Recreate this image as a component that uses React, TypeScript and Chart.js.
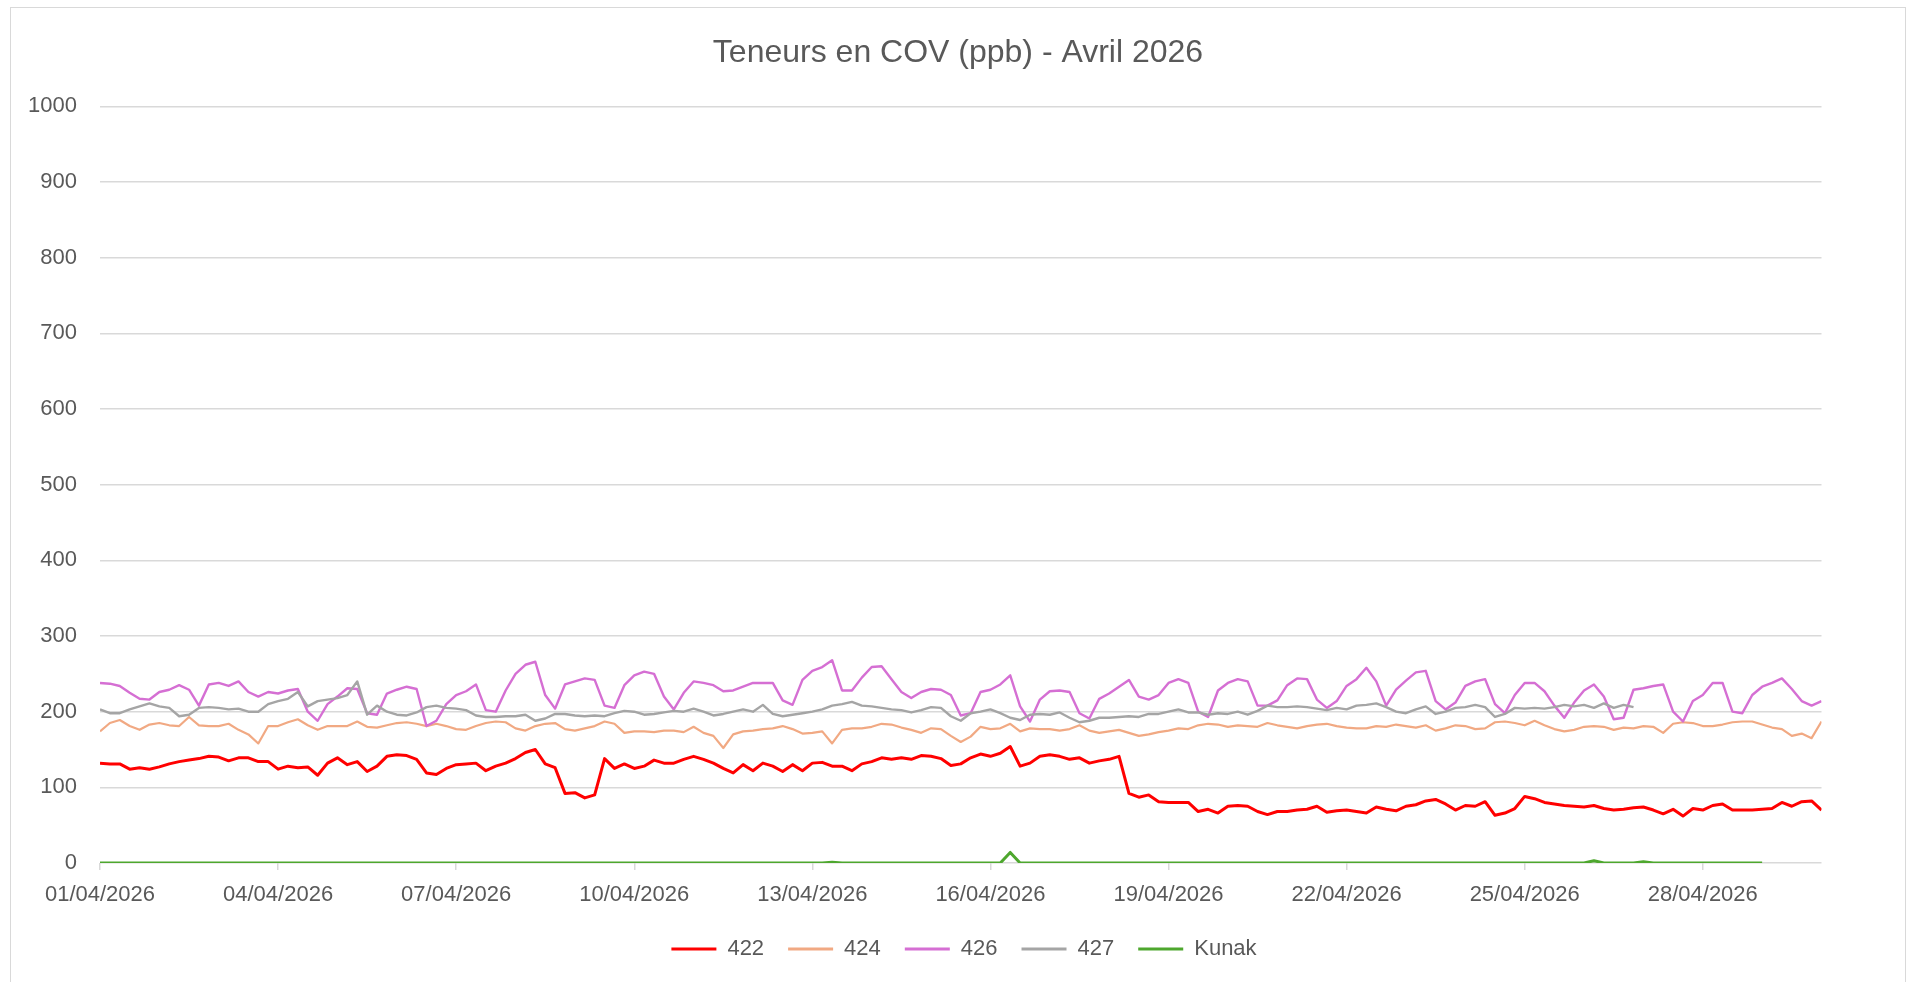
import React, { useEffect, useRef } from "react";
import { Chart, registerables } from "chart.js";

Chart.register(...registerables);

const titleText = "Teneurs en COV (ppb) - Avril 2026";
const seriesNames = ["422", "424", "426", "427", "Kunak"];
const seriesColors = ["#FF0000", "#F1A983", "#D56FD3", "#A5A5A5", "#4EA72E"];
const seriesWidths = [3, 2.2, 2.4, 2.4, 3];

// one value every 4 hours, starting 01/04/2026 00:00
const pointsPerDay = 6;
const xMaxDays = 29;
const tickDays = [0, 3, 6, 9, 12, 15, 18, 21, 24, 27];
const tickLabels = [
  "01/04/2026", "04/04/2026", "07/04/2026", "10/04/2026", "13/04/2026",
  "16/04/2026", "19/04/2026", "22/04/2026", "25/04/2026", "28/04/2026",
];
const yMin = 0;
const yMax = 1000;
const yStep = 100;

const s422 = [
  132, 131, 131, 124, 126, 124,
  127, 131, 134, 136, 138, 141,
  140, 135, 139, 139, 134, 134,
  124, 128, 126, 127, 116, 132,
  139, 130, 134, 121, 128, 141,
  143, 142, 137, 119, 117, 125,
  130, 131, 132, 122, 128, 132,
  138, 146, 150, 131, 126, 92,
  93, 86, 90, 138, 125, 131,
  125, 128, 136, 132, 132, 137,
  141, 137, 132, 125, 119, 130,
  122, 132, 128, 121, 130, 122,
  132, 133, 128, 128, 122, 131,
  134, 139, 137, 139, 137, 142,
  141, 138, 129, 131, 139, 144,
  141, 145, 154, 128, 132, 141,
  143, 141, 137, 139, 132, 135,
  137, 141, 92, 87, 90, 81,
  80, 80, 80, 68, 71, 66,
  75, 76, 75, 68, 64, 68,
  68, 70, 71, 75, 67, 69,
  70, 68, 66, 74, 71, 69,
  75, 77, 82, 84, 78, 70,
  76, 75, 81, 63, 66, 72,
  88, 85, 80, 78, 76, 75,
  74, 76, 72, 70, 71, 73,
  74, 70, 65, 71, 62, 72,
  70, 76, 78, 70, 70, 70,
  71, 72, 80, 75, 81, 82,
  70,
];

const s424 = [
  174, 185, 189, 181, 176, 183,
  185, 182, 181, 193, 182, 181,
  181, 184, 176, 170, 158, 181,
  181, 186, 190, 182, 176, 181,
  181, 181, 187, 180, 179, 182,
  185, 186, 184, 181, 184, 181,
  177, 176, 181, 185, 187, 186,
  178, 175, 181, 184, 185, 177,
  175, 178, 181, 187, 184, 172,
  174, 174, 173, 175, 175, 173,
  180, 172, 168, 152, 170, 174,
  175, 177, 178, 181, 177, 171,
  172, 174, 158, 176, 178, 178,
  180, 184, 183, 179, 176, 172,
  178, 177, 168, 160, 167, 180,
  177, 178, 184, 174, 178, 177,
  177, 175, 177, 182, 175, 172,
  174, 176, 172, 168, 170, 173,
  175, 178, 177, 182, 184, 183,
  180, 182, 181, 180, 185, 182,
  180, 178, 181, 183, 184, 181,
  179, 178, 178, 181, 180, 183,
  181, 179, 182, 175, 178, 182,
  181, 177, 178, 186, 187, 185,
  182, 188, 182, 177, 174, 176,
  180, 181, 180, 176, 179, 178,
  181, 180, 172, 184, 186, 185,
  181, 181, 183, 186, 187, 187,
  183, 179, 177, 168, 171, 165,
  187,
];

const s426 = [
  238, 237, 234, 225, 217, 216,
  226, 229, 235, 229, 208, 236,
  238, 234, 240, 226, 220, 226,
  224, 228, 230, 200, 188, 210,
  220, 231, 230, 198, 196, 224,
  229, 233, 230, 181, 188, 210,
  222, 227, 236, 202, 200, 228,
  250, 262, 266, 222, 204, 236,
  240, 244, 242, 208, 205, 235,
  248, 253, 250, 220, 203, 225,
  240, 238, 235, 227, 228, 233,
  238, 238, 238, 215, 209, 242,
  254, 259, 268, 228, 228, 245,
  259, 260, 243, 226, 218, 226,
  230, 229, 222, 195, 198, 226,
  229, 236, 248, 207, 187, 216,
  227, 228, 226, 198, 191, 217,
  224, 233, 242, 220, 216, 222,
  238, 243, 238, 200, 193, 228,
  238, 243, 240, 208, 208, 215,
  235, 244, 243, 216, 205, 214,
  234, 243, 258, 240, 208, 229,
  241, 252, 254, 214, 203, 212,
  234, 240, 243, 210, 198, 222,
  238, 238, 227, 208, 192, 212,
  228, 236, 220, 190, 192, 229,
  231, 234, 236, 200, 187, 214,
  222, 238, 238, 200, 198, 222,
  233, 238, 244, 230, 214, 208,
  214,
];

// 427 stops on 26/04 in the evening
const s427 = [
  203, 198, 198, 203, 207, 211,
  207, 205, 194, 196, 205, 206,
  205, 203, 204, 200, 200, 210,
  214, 217, 226, 207, 214, 216,
  218, 222, 240, 196, 208, 200,
  196, 195, 199, 206, 208, 205,
  204, 202, 195, 193, 193, 194,
  194, 196, 188, 191, 197, 197,
  195, 194, 195, 194, 198, 201,
  200, 196, 197, 199, 201, 200,
  204, 200, 195, 197, 200, 203,
  200, 209, 197, 194, 196, 198,
  200, 203, 208, 210, 213, 208,
  207, 205, 203, 202, 199, 202,
  206, 205, 194, 188, 198, 200,
  203, 198, 192, 189, 196, 197,
  196, 199, 192, 186, 188, 192,
  192, 193, 194, 193, 197, 197,
  200, 203, 199, 199, 196, 198,
  197, 200, 196, 201, 208, 206,
  206, 207, 206, 204, 202, 205,
  203, 208, 209, 211, 206, 200,
  198, 203, 207, 197, 200, 205,
  206, 209, 206, 193, 197, 205,
  204, 205, 204, 206, 209, 207,
  209, 205, 211, 205, 209, 206,
];

// Kunak stops on 29/04 00:00
const sKunak = [
  0, 0, 0, 0, 0, 0,
  0, 0, 0, 0, 0, 0,
  0, 0, 0, 0, 0, 0,
  0, 0, 0, 0, 0, 0,
  0, 0, 0, 0, 0, 0,
  0, 0, 0, 0, 0, 0,
  0, 0, 0, 0, 0, 0,
  0, 0, 0, 0, 0, 0,
  0, 0, 0, 0, 0, 0,
  0, 0, 0, 0, 0, 0,
  0, 0, 0, 0, 0, 0,
  0, 0, 0, 0, 0, 0,
  0, 0, 1, 0, 0, 0,
  0, 0, 0, 0, 0, 0,
  0, 0, 0, 0, 0, 0,
  0, 0, 14, 0, 0, 0,
  0, 0, 0, 0, 0, 0,
  0, 0, 0, 0, 0, 0,
  0, 0, 0, 0, 0, 0,
  0, 0, 0, 0, 0, 0,
  0, 0, 0, 0, 0, 0,
  0, 0, 0, 0, 0, 0,
  0, 0, 0, 0, 0, 0,
  0, 0, 0, 0, 0, 0,
  0, 0, 0, 0, 0, 0,
  0, 3, 0, 0, 0, 0,
  1.5, 0, 0, 0, 0, 0,
  0, 0, 0, 0, 0, 0,
  0,
];

const seriesValues = [s422, s424, s426, s427, sKunak];

const FONT = "'Liberation Sans', Arial, sans-serif";
const TEXT = "#595959";
const GRID = "#D9D9D9";

const legendShift = {
  id: "legendShift",
  afterLayout(chart: any) {
    const l = chart.legend;
    if (l) {
      l.left += 6;
      l.right += 6;
    }
  },
};

export default function App() {
  const canvasRef = useRef<HTMLCanvasElement | null>(null);

  useEffect(() => {
    document.documentElement.style.overflow = "hidden";
    const canvas = canvasRef.current;
    if (!canvas) return;
    Chart.defaults.font.family = FONT;
    Chart.defaults.color = TEXT;

    const datasets = seriesValues.map((vals, i) => ({
      label: seriesNames[i],
      data: vals.map((v, k) => ({ x: k / pointsPerDay, y: v })),
      borderColor: seriesColors[i],
      backgroundColor: seriesColors[i],
      borderWidth: seriesWidths[i],
      pointRadius: 0,
      pointHoverRadius: 0,
      tension: 0,
      fill: false,
      borderJoinStyle: "round" as const,
      order: seriesNames.length - 1 - i,
    }));

    const chart = new Chart(canvas, {
      type: "line",
      data: { datasets },
      plugins: [legendShift],
      options: {
        animation: false,
        responsive: false,
        devicePixelRatio: 1,
        layout: { padding: 0 },
        plugins: {
          title: {
            display: true,
            text: titleText,
            color: TEXT,
            font: { family: FONT, size: 32, weight: "normal" },
            padding: { top: 26, bottom: 34 },
          },
          legend: {
            position: "bottom",
            labels: {
              boxWidth: 45,
              boxHeight: 3,
              padding: 24,
              color: TEXT,
              font: { family: FONT, size: 22 },
              sort: (a: any, b: any) => a.datasetIndex - b.datasetIndex,
              generateLabels: (c: any) =>
                c.data.datasets.map((ds: any, i: number) => ({
                  text: ds.label,
                  fillStyle: ds.borderColor,
                  strokeStyle: ds.borderColor,
                  lineWidth: 0,
                  hidden: false,
                  datasetIndex: i,
                  fontColor: TEXT,
                })),
            },
          },
          tooltip: { enabled: false },
        },
        scales: {
          x: {
            type: "linear",
            min: 0,
            max: xMaxDays,
            afterBuildTicks: (s: any) => {
              s.ticks = tickDays.map((v) => ({ value: v }));
            },
            afterFit: (s: any) => {
              s.height = 51;
            },
            ticks: {
              autoSkip: false,
              maxRotation: 0,
              minRotation: 0,
              padding: 11.5,
              color: TEXT,
              font: { family: FONT, size: 22 },
              callback: (_v: any, idx: number) => tickLabels[idx] ?? "",
            },
            grid: {
              drawOnChartArea: false,
              drawTicks: true,
              tickLength: 7,
              color: GRID,
              lineWidth: 1.5,
            },
            border: { display: false },
          },
          y: {
            type: "linear",
            position: "left",
            min: yMin,
            max: yMax,
            afterFit: (s: any) => {
              s.width = 89;
            },
            ticks: {
              stepSize: yStep,
              padding: 23,
              color: TEXT,
              font: { family: FONT, size: 22 },
              callback: (v: any) => String(v),
            },
            grid: { color: GRID, lineWidth: 1.5, drawTicks: false },
            border: { display: false },
          },
          yR: {
            type: "linear",
            position: "right",
            display: true,
            afterFit: (s: any) => {
              s.width = 83.5;
            },
            ticks: { display: false },
            grid: { display: false },
            border: { display: false },
          },
        },
      },
    });
    return () => chart.destroy();
  }, []);

  return (
    <div
      style={{
        position: "absolute",
        left: 10,
        top: 7,
        width: 1894,
        height: 990,
        border: "1px solid #D9D9D9",
        background: "#FFFFFF",
      }}
    >
      <canvas ref={canvasRef} width={1894} height={962} style={{ display: "block" }} />
    </div>
  );
}
